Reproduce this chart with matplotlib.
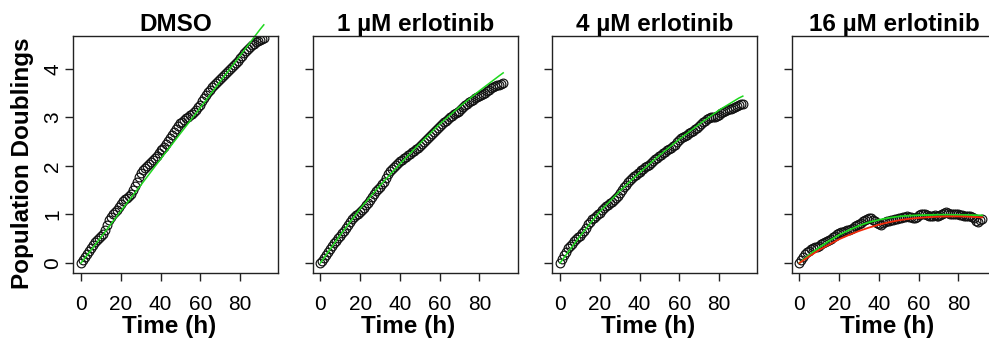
"""
Erlotinib growth curves - population doublings vs time, four conditions.
989x343 px, R base-graphics look.
"""
import matplotlib
matplotlib.use("Agg")
import matplotlib.pyplot as plt

# ---- data ----
PANELS = ["DMSO", "1 µM erlotinib", "4 µM erlotinib", "16 µM erlotinib"]

TIME = [0, 1, 2, 3, 4, 5, 6, 7, 8, 9, 10, 11, 12, 13, 14, 15, 16, 17, 18, 19,
        20, 21, 22, 23, 24, 25, 26, 27, 28, 29, 30, 31, 32, 33, 34, 35, 36, 37,
        38, 39, 40, 41, 42, 43, 44, 45, 46, 47, 48, 49, 50, 51, 52, 53, 54, 55,
        56, 57, 58, 59, 60, 61, 62, 63, 64, 65, 66, 67, 68, 69, 70, 71, 72, 73,
        74, 75, 76, 77, 78, 79, 80, 81, 82, 83, 84, 85, 86, 87, 88, 89, 90, 91, 92]

PD_DMSO = [0.00, 0.06, 0.12, 0.18, 0.24, 0.31, 0.38, 0.44, 0.48, 0.52, 0.56, 0.60,
           0.68, 0.78, 0.88, 0.95, 1.00, 1.05, 1.10, 1.16, 1.22, 1.28, 1.32, 1.35,
           1.38, 1.43, 1.50, 1.59, 1.68, 1.77, 1.85, 1.91, 1.95, 2.00, 2.05, 2.09,
           2.12, 2.16, 2.20, 2.26, 2.32, 2.36, 2.40, 2.46, 2.52, 2.58, 2.64, 2.70,
           2.76, 2.82, 2.88, 2.91, 2.94, 2.98, 3.02, 3.05, 3.08, 3.12, 3.16, 3.21,
           3.26, 3.33, 3.40, 3.46, 3.52, 3.57, 3.62, 3.67, 3.72, 3.76, 3.80, 3.84,
           3.88, 3.92, 3.96, 4.00, 4.04, 4.08, 4.12, 4.17, 4.22, 4.27, 4.32, 4.37,
           4.42, 4.46, 4.49, 4.52, 4.55, 4.58, 4.60, 4.62, 4.64]
PD_1UM = [0.00, 0.05, 0.10, 0.16, 0.22, 0.29, 0.36, 0.41, 0.46, 0.51, 0.56, 0.61,
          0.66, 0.72, 0.78, 0.84, 0.90, 0.94, 0.98, 1.02, 1.06, 1.10, 1.14, 1.19,
          1.24, 1.30, 1.36, 1.42, 1.48, 1.52, 1.56, 1.62, 1.68, 1.76, 1.84, 1.89,
          1.94, 1.98, 2.02, 2.06, 2.10, 2.13, 2.16, 2.19, 2.22, 2.25, 2.28, 2.31,
          2.34, 2.38, 2.42, 2.46, 2.50, 2.54, 2.58, 2.62, 2.66, 2.70, 2.74, 2.78,
          2.82, 2.86, 2.90, 2.93, 2.96, 3.00, 3.04, 3.07, 3.10, 3.12, 3.14, 3.18,
          3.22, 3.25, 3.28, 3.31, 3.34, 3.37, 3.40, 3.42, 3.44, 3.46, 3.48, 3.51,
          3.54, 3.57, 3.60, 3.62, 3.64, 3.66, 3.68, 3.70, 3.71]
PD_4UM = [0.00, 0.08, 0.16, 0.23, 0.30, 0.35, 0.40, 0.45, 0.50, 0.53, 0.56, 0.61,
          0.66, 0.73, 0.80, 0.85, 0.90, 0.93, 0.96, 1.00, 1.04, 1.09, 1.14, 1.17,
          1.20, 1.23, 1.26, 1.30, 1.34, 1.39, 1.44, 1.50, 1.56, 1.61, 1.66, 1.71,
          1.76, 1.79, 1.82, 1.85, 1.88, 1.91, 1.94, 1.97, 2.00, 2.03, 2.06, 2.10,
          2.14, 2.17, 2.20, 2.23, 2.26, 2.29, 2.32, 2.35, 2.38, 2.41, 2.44, 2.49,
          2.54, 2.57, 2.60, 2.62, 2.64, 2.67, 2.70, 2.73, 2.76, 2.79, 2.82, 2.86,
          2.90, 2.93, 2.96, 2.98, 3.00, 3.01, 3.02, 3.04, 3.06, 3.09, 3.12, 3.14,
          3.16, 3.17, 3.18, 3.20, 3.22, 3.24, 3.26, 3.27, 3.28]
PD_16UM = [0.00, 0.07, 0.12, 0.18, 0.22, 0.25, 0.28, 0.30, 0.32, 0.34, 0.36, 0.39,
           0.42, 0.44, 0.46, 0.48, 0.50, 0.53, 0.56, 0.60, 0.62, 0.63, 0.64, 0.66,
           0.68, 0.69, 0.70, 0.73, 0.76, 0.78, 0.80, 0.83, 0.86, 0.88, 0.90, 0.92,
           0.92, 0.89, 0.86, 0.82, 0.80, 0.79, 0.82, 0.84, 0.86, 0.87, 0.88, 0.89,
           0.90, 0.91, 0.92, 0.93, 0.94, 0.95, 0.96, 0.95, 0.94, 0.92, 0.92, 0.95,
           0.98, 1.00, 1.02, 1.00, 0.98, 0.97, 0.96, 0.97, 0.98, 0.97, 0.96, 0.98,
           1.00, 1.03, 1.06, 1.04, 1.02, 1.01, 1.00, 1.00, 1.00, 0.99, 0.98, 0.97,
           0.96, 0.96, 0.96, 0.94, 0.92, 0.86, 0.84, 0.88, 0.90]

# fitted curves
FIT_TIME = [0, 10, 20, 30, 40, 50, 60, 70, 80, 90, 92]
FIT_DMSO = [0.00, 0.53, 1.07, 1.60, 2.14, 2.67, 3.20, 3.74, 4.27, 4.81, 4.91]
FIT_1UM = [0.00, 0.58, 1.12, 1.60, 2.04, 2.46, 2.86, 3.22, 3.55, 3.86, 3.92]
FIT_4UM = [0.00, 0.55, 1.06, 1.48, 1.86, 2.22, 2.55, 2.86, 3.15, 3.40, 3.44]

FIT_TIME_16 = [0, 5, 10, 15, 20, 25, 30, 35, 40, 45, 50, 55, 60, 65, 70, 75, 80,
               85, 90, 92]
FIT_16UM_GREEN = [0.00, 0.17, 0.32, 0.46, 0.58, 0.68, 0.77, 0.84, 0.89, 0.93, 0.96,
                  0.975, 0.985, 0.99, 0.995, 0.995, 0.99, 0.99, 0.985, 0.98]
FIT_16UM_RED = [0.00, 0.14, 0.27, 0.38, 0.49, 0.58, 0.66, 0.73, 0.79, 0.84, 0.88,
                0.91, 0.93, 0.945, 0.955, 0.96, 0.96, 0.955, 0.945, 0.94]

X_TICKS = [0, 20, 40, 60, 80]
Y_TICKS = [0, 1, 2, 3, 4]

GREEN = "#1ED81E"
RED = "#F02A0A"

plt.rcParams["font.family"] = ["Liberation Sans", "DejaVu Sans"]

W, H = 989, 343
fig = plt.figure(figsize=(W / 100, H / 100), dpi=100)
fig.patch.set_facecolor("white")

lefts = [73.3, 312.7, 552.3, 791.7]
box_w = 205.0
box_top, box_bot = 36.0, 272.5

series = [PD_DMSO, PD_1UM, PD_4UM, PD_16UM]
fits = [FIT_DMSO, FIT_1UM, FIT_4UM, None]

for i, name in enumerate(PANELS):
    ax = fig.add_axes([lefts[i] / W, 1 - box_bot / H, box_w / W, (box_bot - box_top) / H])
    ax.plot(TIME, series[i], linestyle="none", marker="o", markersize=6.3,
            markerfacecolor="none", markeredgecolor="#111111", markeredgewidth=0.85)
    if fits[i] is not None:
        ax.plot(FIT_TIME, fits[i], color=GREEN, lw=1.1, clip_on=False)
    else:
        ax.plot(FIT_TIME_16, FIT_16UM_GREEN, color=GREEN, lw=1.3)
        ax.plot(FIT_TIME_16, FIT_16UM_RED, color=RED, lw=1.3)

    ax.set_xlim(-3.9, 99.3)
    ax.set_ylim(-0.196, 4.68)
    ax.set_xticks(X_TICKS)
    ax.set_xticklabels([str(t) for t in X_TICKS], fontsize=15)
    ax.set_yticks(Y_TICKS)
    if i == 0:
        ax.set_yticklabels([str(t) for t in Y_TICKS], fontsize=15,
                           rotation=90, va="center")
    else:
        ax.set_yticklabels([])
    ax.tick_params(direction="out", length=6, width=1.0, color="#222222")
    ax.tick_params(axis="x", pad=10)
    ax.tick_params(axis="y", pad=2)
    # R puts the x label slightly left of centre
    ax.set_xlabel("Time (h)", fontsize=17.5, fontweight="bold", va="top")
    ax.xaxis.set_label_coords(0.466, -0.178)
    ax.set_title(name, fontsize=17.5, fontweight="bold", pad=3)
    for sp in ax.spines.values():
        sp.set_linewidth(1.0)
        sp.set_color("#222222")

fig.text(22.5 / W, 1 - 163 / H, "Population Doublings", rotation=90,
         ha="center", va="center", fontsize=17.5, fontweight="bold")

fig.savefig("out.png", dpi=100, facecolor="white")
